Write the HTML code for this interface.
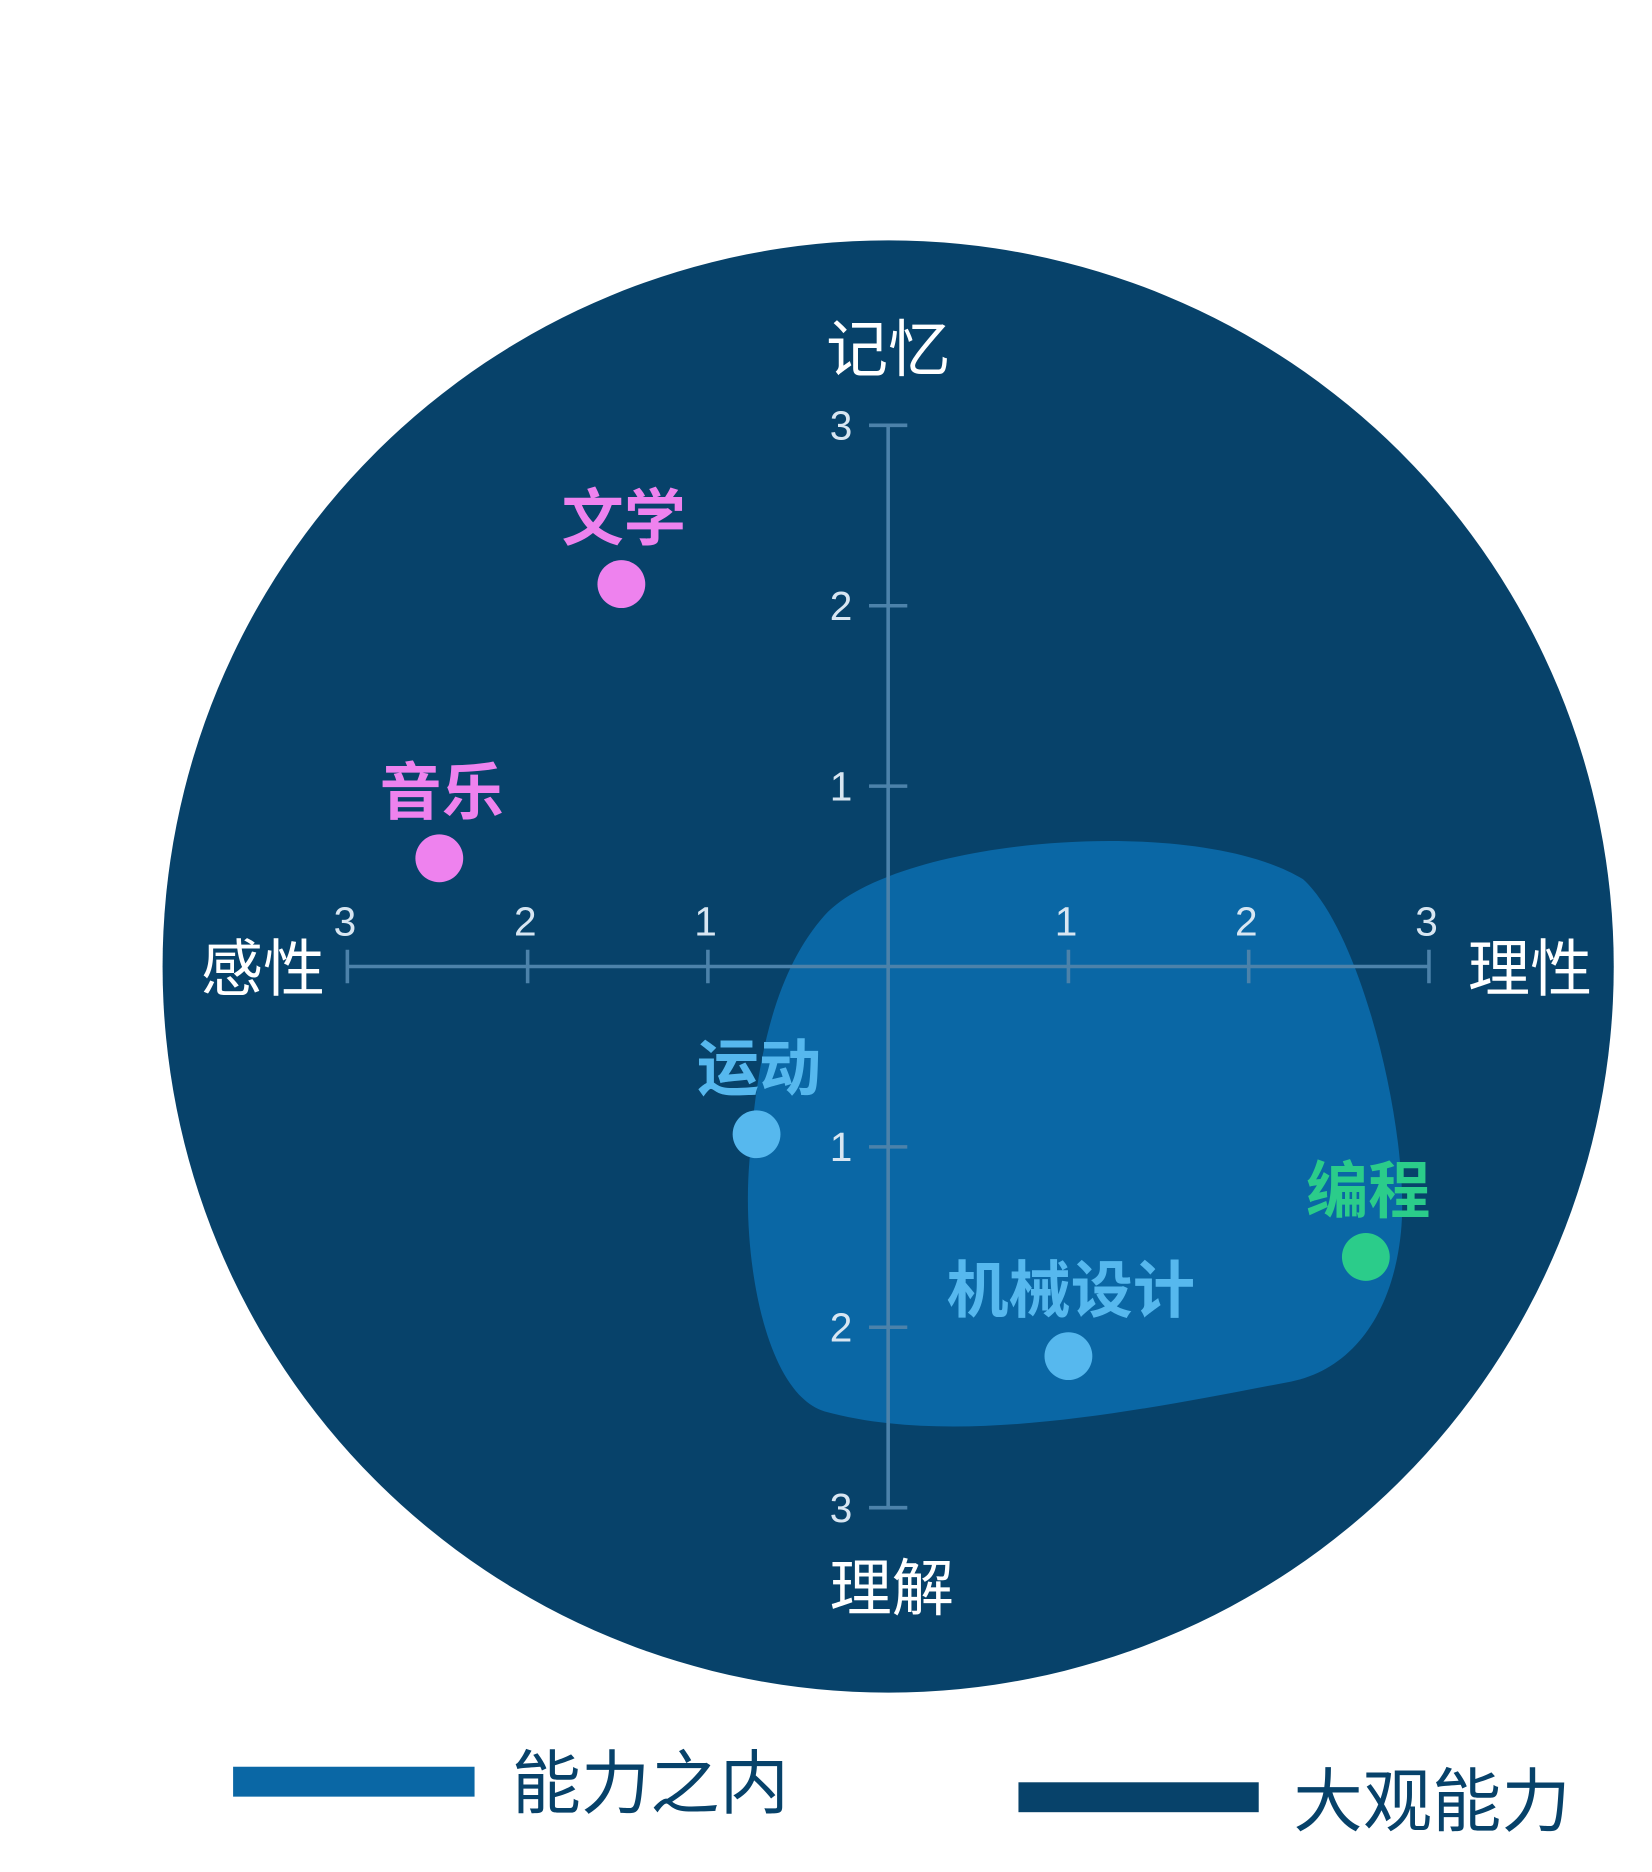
<!DOCTYPE html>
<html><head><meta charset="utf-8"><style>
html,body{margin:0;padding:0;background:#fff;}
svg{display:block;}
text{font-family:"Liberation Sans","Noto Sans CJK SC",sans-serif;}
</style></head><body>
<svg id="chart" width="1652" height="1872" viewBox="0 0 1382 1565" preserveAspectRatio="none" xmlns="http://www.w3.org/2000/svg">
<circle cx="743" cy="808" r="607" fill="#07426a"/>
<path d="M690,765 C750,700 1000,680 1090,735 C1140,780 1180,950 1172,1030 C1165,1100 1130,1145 1080,1155 C950,1180 800,1210 690,1180 C640,1165 620,1050 627,970 C633,880 650,810 690,765 Z" fill="#0a67a5"/>
<g id="axes"></g>
<g id="points"></g>
<text x="743" y="310" font-size="52" fill="#fff" text-anchor="middle">记忆</text>
<text x="746" y="1346" font-size="52" fill="#fff" text-anchor="middle">理解</text>
<text x="220" y="828" font-size="52" fill="#fff" text-anchor="middle">感性</text>
<text x="1280" y="828" font-size="52" fill="#fff" text-anchor="middle">理性</text>
<rect x="195" y="1477" width="202" height="25" fill="#0a67a5"/>
<text x="428" y="1511" font-size="58" fill="#07426a">能力之内</text>
<rect x="852" y="1490" width="201" height="25" fill="#07426a"/>
<text x="1082" y="1526" font-size="58" fill="#07426a">大观能力</text>
</svg>
<script>
const names = ["文学","音乐","运动","机械设计","编程"];
const xVals = [-1.48,-2.49,-0.73,1.0,2.65];
const yVals = [2.12,0.6,-0.93,-2.16,-1.61];
const colors = ["#ee82ee","#ee82ee","#56b8ee","#56b8ee","#2bcc8a"];
const ticks = [1,2,3];
const tickLabels = ["1","2","3"];
const NS="http://www.w3.org/2000/svg";
const cx=743, cy=808, unit=150.8;
const sx=v=>cx+v*unit, sy=v=>cy-v*unit;
function mk(t,a,p){const e=document.createElementNS(NS,t);for(const k in a)e.setAttribute(k,a[k]);p.appendChild(e);return e;}
const ax=document.getElementById('axes');
const ac="#4c82aa";
let l=mk('line',{x1:sx(-3),y1:cy,x2:sx(3),y2:cy,stroke:ac,'stroke-width':3},ax);


l=mk('line',{x1:cx,y1:sy(3),x2:cx,y2:sy(-3),stroke:ac,'stroke-width':3},ax);


ticks.forEach((t,i)=>{
  [-1,1].forEach(s=>{
    let k=mk('line',{x1:sx(s*t),y1:cy-14,x2:sx(s*t),y2:cy+14,stroke:ac,'stroke-width':3},ax);
    
    
    let tx=mk('text',{x:sx(s*t)-2,y:cy-26,'font-size':34,fill:'#d8e6f2','text-anchor':'middle'},ax);
    tx.textContent=tickLabels[i];
    
    
    k=mk('line',{x1:cx-16,y1:sy(s*t),x2:cx+16,y2:sy(s*t),stroke:ac,'stroke-width':3},ax);
    
    
    tx=mk('text',{x:cx-30,y:sy(s*t)+12,'font-size':34,fill:'#d8e6f2','text-anchor':'end'},ax);
    tx.textContent=tickLabels[i];
    
    
  });
});
const pg=document.getElementById('points');
names.forEach((n,i)=>{
  const c=mk('circle',{cx:sx(xVals[i]),cy:sy(yVals[i]),r:20,fill:colors[i]},pg);
  
  
  const t=mk('text',{x:sx(xVals[i])+2,y:sy(yVals[i])-37,'font-size':52,'font-weight':'bold',fill:colors[i],'text-anchor':'middle'},pg);
  t.textContent=n;
  
  
});
</script>
</body></html>
